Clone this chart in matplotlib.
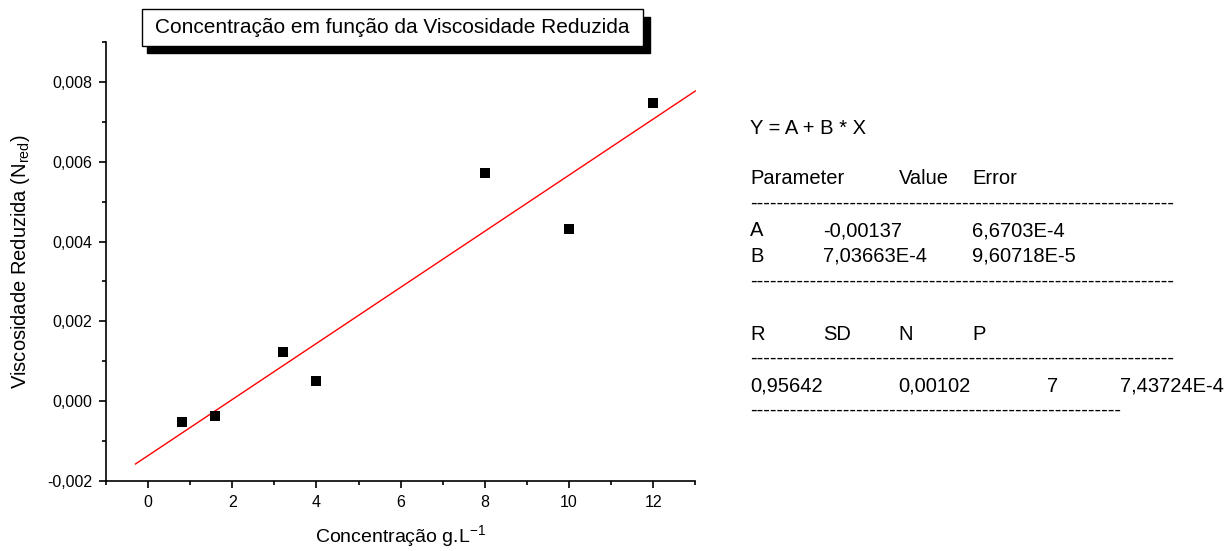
import numpy as np
import matplotlib
matplotlib.use("Agg")
import matplotlib.pyplot as plt
from matplotlib.patches import Rectangle
from matplotlib.ticker import MultipleLocator, FuncFormatter

plt.rcParams['font.family'] = ['Liberation Sans', 'DejaVu Sans']
plt.rcParams['mathtext.default'] = 'regular'

# Data
conc = [0.8, 1.6, 3.2, 4.0, 8.0, 10.0, 12.0]
visc = [-0.00052, -0.00038, 0.00123, 0.00050, 0.00572, 0.00432, 0.00747]
fit_A = -0.00137
fit_B = 7.03663e-4
fit_range = [-0.3, 13.0]

title = "Concentração em função da Viscosidade Reduzida"
xlabel = "Concentração g.L$^{-1}$"
ylabel = "Viscosidade Reduzida (N$_{red}$)"

W, H = 1227, 551
fig = plt.figure(figsize=(W / 100, H / 100), dpi=100)

def fx(px):
    return px / W

def fy(py):
    return 1 - py / H

ax_l, ax_r, ax_t, ax_b = 106.0, 695.3, 42.3, 480.7
ax = fig.add_axes([fx(ax_l), fy(ax_b), fx(ax_r - ax_l), (ax_b - ax_t) / H])

ax.scatter(conc, visc, marker='s', s=42, color='black', zorder=3, linewidths=0)
xf = np.array(fit_range)
ax.plot(xf, fit_A + fit_B * xf, color='red', lw=1.0, clip_on=False, zorder=2)

ax.set_xlim(-1, 13)
ax.set_ylim(-0.002, 0.009)
ax.xaxis.set_major_locator(MultipleLocator(2))
ax.xaxis.set_minor_locator(MultipleLocator(1))
ax.yaxis.set_major_locator(MultipleLocator(0.002))
ax.yaxis.set_minor_locator(MultipleLocator(0.001))
ax.xaxis.set_major_formatter(FuncFormatter(lambda v, p: f"{v:.0f}"))
ax.yaxis.set_major_formatter(FuncFormatter(lambda v, p: f"{v:.3f}".replace('.', ',').replace('-0,000', '0,000')))

for s in ['top', 'right']:
    ax.spines[s].set_visible(False)
for s in ['left', 'bottom']:
    ax.spines[s].set_linewidth(1.2)
ax.tick_params(which='major', direction='out', length=5, width=1.2, labelsize=11.5, pad=5)
ax.tick_params(which='minor', direction='out', length=3, width=1.2)

ax.set_xlabel(xlabel, fontsize=14, labelpad=10)
ax.set_ylabel(ylabel, fontsize=14.5, labelpad=11)

# Title box with shadow
fig.patches.append(Rectangle((fx(146.7), fy(53.3)), fx(650 - 146.7), (53.3 - 16.7) / H,
                             transform=fig.transFigure, facecolor='black', edgecolor='black', zorder=1))
fig.patches.append(Rectangle((fx(141.7), fy(45.7)), fx(643 - 141.7), (45.7 - 9) / H,
                             transform=fig.transFigure, facecolor='white', edgecolor='black', lw=1.0, zorder=2))
fig.text(fx(392), fy(27.5), title, ha='center', va='center', fontsize=15, zorder=3)

# Fit results table
fs = 14.5
dash_long = '-' * 64
dash_short = '-' * 56
rows = [
    (133.6, [(750, "Y = A + B * X")]),
    (184.0, [(750, "Parameter"), (898.6, "Value"), (972.3, "Error")]),
    (209.0, [(750, dash_long)]),
    (236.4, [(750, "A"), (823.3, "-0,00137"), (972.3, "6,6703E-4")]),
    (262.0, [(750, "B"), (823.3, "7,03663E-4"), (972.3, "9,60718E-5")]),
    (287.0, [(750, dash_long)]),
    (339.7, [(750, "R"), (823.3, "SD"), (898.6, "N"), (972.3, "P")]),
    (364.0, [(750, dash_long)]),
    (391.8, [(750, "0,95642"), (898.6, "0,00102"), (1047.3, "7"), (1120, "7,43724E-4")]),
    (415.5, [(750, dash_short)]),
]
for ybase, items in rows:
    for xp, txt in items:
        fig.text(fx(xp), fy(ybase), txt, ha='left', va='baseline', fontsize=fs)

fig.savefig("out.png", dpi=100)
